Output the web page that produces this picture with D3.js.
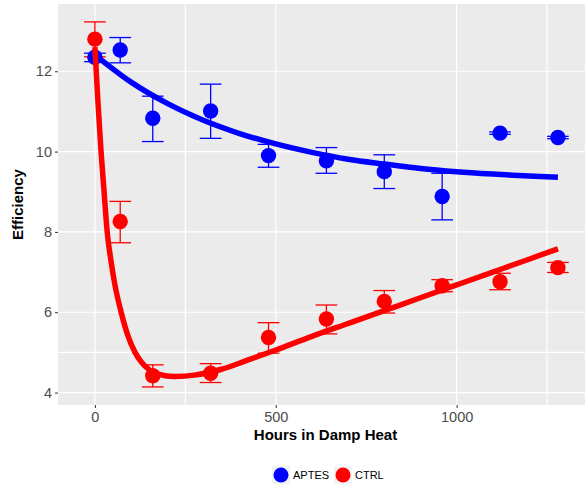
<!DOCTYPE html>
<html>
<head>
  <script src="https://d3js.org/d3.v7.min.js"></script>
  <style>
    body { margin: 0; background: #fff; font-family: "Liberation Sans", Arial, sans-serif; }
    .tick-label { fill: #4d4d4d; font-size: 14.5px; }
    .axis-title { fill: #000; font-size: 15px; font-weight: bold; }
    .legend-text { fill: #000; font-size: 11px; }
  </style>
</head>
<body>
  <div id="chart"></div>
  <script>
    // measured points
    const hours = [0, 70, 160, 320, 480, 640, 800, 960, 1120, 1280];
    const aptesMean = [12.35, 12.53, 10.83, 11.01, 9.90, 9.77, 9.50, 8.88, 10.46, 10.35];
    const aptesLow  = [12.24, 12.21, 10.25, 10.33, 9.61, 9.46, 9.08, 8.30, 10.43, 10.32];
    const aptesHigh = [12.45, 12.84, 11.38, 11.68, 10.18, 10.10, 9.92, 9.46, 10.49, 10.38];
    const ctrlMean = [12.80, 8.26, 4.42, 4.48, 5.37, 5.83, 6.27, 6.66, 6.76, 7.11];
    const ctrlLow  = [12.36, 7.73, 4.14, 4.25, 4.98, 5.46, 5.98, 6.51, 6.56, 6.99];
    const ctrlHigh = [13.23, 8.76, 4.69, 4.72, 5.74, 6.18, 6.54, 6.81, 6.97, 7.24];

    // fitted curves
    const aptesFitHours = [0, 100, 200, 300, 400, 500, 600, 700, 800, 900, 1000, 1100, 1200, 1280];
    const aptesFit = [12.41, 11.73, 11.20, 10.78, 10.45, 10.19, 9.98, 9.81, 9.69, 9.58, 9.50, 9.44, 9.39, 9.36];
    const ctrlFitHours = [0, 8, 17, 25, 34, 45, 55, 74, 90, 111, 130, 150, 175, 220, 280, 350, 420, 500, 600, 700, 800, 900, 1000, 1100, 1200, 1280];
    const ctrlFit = [12.6, 11.3, 10.0, 9.05, 8.0, 7.25, 6.7, 5.95, 5.45, 5.0, 4.74, 4.57, 4.46, 4.40, 4.44, 4.58, 4.80, 5.06, 5.40, 5.72, 6.04, 6.36, 6.68, 7.00, 7.32, 7.58];

    const xTicks = [0, 500, 1000];
    const xGrid = [0, 250, 500, 1000, 1250];
    const yTicks = [4, 6, 8, 10, 12];
    const yGrid = [4, 5, 6, 8, 10, 12];
    const seriesNames = ["APTES", "CTRL"];
    const seriesColors = ["blue", "red"];

    const W = 585, H = 484;
    const panel = {left: 58, top: 4, right: 593, bottom: 405};

    const svg = d3.select("#chart").append("svg")
      .attr("width", W)
      .attr("height", H);

    const x = d3.scaleLinear().domain([-102, 1377]).range([panel.left, panel.right]);
    const y = d3.scaleLinear().domain([3.69, 13.675]).range([panel.bottom, panel.top]);

    // panel background + grid
    svg.append("rect")
      .attr("x", panel.left).attr("y", panel.top)
      .attr("width", panel.right - panel.left)
      .attr("height", panel.bottom - panel.top)
      .attr("fill", "#ebebeb");

    svg.selectAll(".gx").data(xGrid).join("line")
      .attr("x1", d => x(d)).attr("x2", d => x(d))
      .attr("y1", panel.top).attr("y2", panel.bottom)
      .attr("stroke", "#fff").attr("stroke-width", 1.2);

    svg.selectAll(".gy").data(yGrid).join("line")
      .attr("y1", d => y(d)).attr("y2", d => y(d))
      .attr("x1", panel.left).attr("x2", panel.right)
      .attr("stroke", "#fff").attr("stroke-width", 1.2);

    // axes
    const xAxis = d3.axisBottom(x).tickValues(xTicks).tickFormat(d3.format("d")).tickSize(3).tickPadding(4);
    const yAxis = d3.axisLeft(y).tickValues(yTicks).tickSize(3).tickPadding(3);

    const gx = svg.append("g").attr("transform", `translate(0,${panel.bottom})`).call(xAxis);
    const gy = svg.append("g").attr("transform", `translate(${panel.left},0)`).call(yAxis);
    [gx, gy].forEach(g => {
      g.select(".domain").remove();
      g.selectAll(".tick line").attr("stroke", "#333");
      g.selectAll(".tick text").attr("class", "tick-label").attr("font-family", null).attr("font-size", null);
    });

    svg.append("text").attr("class", "axis-title")
      .attr("x", (panel.left + panel.right) / 2).attr("y", 440)
      .attr("text-anchor", "middle")
      .text("Hours in Damp Heat");

    svg.append("text").attr("class", "axis-title")
      .attr("transform", `translate(23,${(panel.top + panel.bottom) / 2}) rotate(-90)`)
      .attr("text-anchor", "middle")
      .text("Efficiency");

    const series = [
      {mean: aptesMean, low: aptesLow, high: aptesHigh, fx: aptesFitHours, fy: aptesFit},
      {mean: ctrlMean, low: ctrlLow, high: ctrlHigh, fx: ctrlFitHours, fy: ctrlFit}
    ];

    const plot = svg.append("g");
    const capHalf = 30;

    // error bars
    series.forEach((s, si) => {
      const g = plot.append("g").attr("stroke", seriesColors[si]).attr("stroke-width", 1.3).attr("fill", "none");
      const rows = hours.map((h, i) => ({h, lo: s.low[i], hi: s.high[i]}));
      g.selectAll(".v").data(rows).join("line")
        .attr("x1", d => x(d.h)).attr("x2", d => x(d.h))
        .attr("y1", d => y(d.lo)).attr("y2", d => y(d.hi));
      g.selectAll(".t").data(rows).join("line")
        .attr("x1", d => x(d.h - capHalf)).attr("x2", d => x(d.h + capHalf))
        .attr("y1", d => y(d.hi)).attr("y2", d => y(d.hi));
      g.selectAll(".b").data(rows).join("line")
        .attr("x1", d => x(d.h - capHalf)).attr("x2", d => x(d.h + capHalf))
        .attr("y1", d => y(d.lo)).attr("y2", d => y(d.lo));
    });

    // points
    series.forEach((s, si) => {
      plot.append("g").selectAll("circle").data(hours).join("circle")
        .attr("cx", d => x(d))
        .attr("cy", (d, i) => y(s.mean[i]))
        .attr("r", 7.7)
        .attr("fill", seriesColors[si]);
    });

    // fit lines
    const line = d3.line().x(d => x(d[0])).y(d => y(d[1])).curve(d3.curveMonotoneX);
    series.forEach((s, si) => {
      plot.append("path")
        .datum(s.fx.map((h, i) => [h, s.fy[i]]))
        .attr("d", line)
        .attr("fill", "none")
        .attr("stroke", seriesColors[si])
        .attr("stroke-width", 5.5);
    });

    // legend
    const legendX = [281, 343];
    const leg = svg.append("g");
    seriesNames.forEach((name, i) => {
      leg.append("rect")
        .attr("x", legendX[i] - 9).attr("y", 466)
        .attr("width", 18).attr("height", 18)
        .attr("fill", "#f2f2f2");
      leg.append("circle")
        .attr("cx", legendX[i]).attr("cy", 475)
        .attr("r", 7.5)
        .attr("fill", seriesColors[i]);
      leg.append("text").attr("class", "legend-text")
        .attr("x", legendX[i] + 12).attr("y", 479)
        .text(name);
    });
  </script>
</body>
</html>
